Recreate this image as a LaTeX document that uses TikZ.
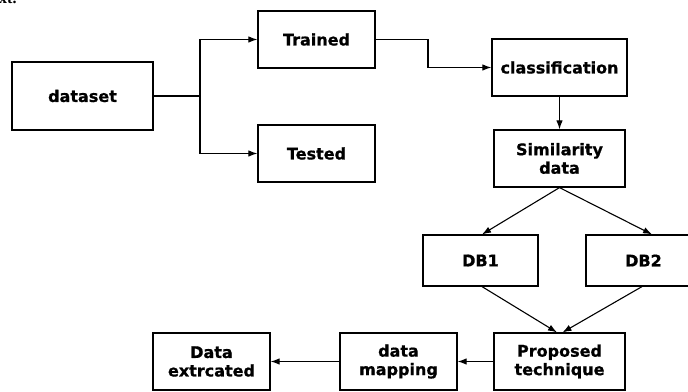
\documentclass[tikz,border=0pt]{standalone}
\usepackage{fontspec}
\setmainfont{DejaVu Sans}
\newfontfamily\heavyfont{DejaVu Sans Bold}[FakeBold=0.8]
\newfontfamily\fragfont{Liberation Serif Bold}
\usetikzlibrary{arrows.meta,calc}
\tikzset{
  box/.style={draw=black, line width=1.2pt, fill=white, inner sep=0pt, align=center,
    font=\heavyfont\fontsize{16}{18.5}\selectfont},
  conn/.style={line width=1.1pt, draw=black},
  arr/.style={conn, -{Latex[length=9pt,width=6.5pt]}}
}
\begin{document}
\begin{tikzpicture}[x=1pt,y=1pt]
\useasboundingbox (0,0) rectangle (688,391);
\clip (0,0) rectangle (688,391);
\node[anchor=base west, inner sep=0pt, font=\fragfont\fontsize{16}{18}\selectfont] (frag) at (-1,387.5) {xt.};
\node[box, minimum width=141, minimum height=68] (dataset) at (82.5,295) {dataset};
\node[box, minimum width=117, minimum height=57] (trained) at (316.5,351.5) {Trained};
\node[box, minimum width=117, minimum height=57] (tested) at (316.5,237.5) {Tested};
\node[box, minimum width=135, minimum height=57] (class) at (559.5,323.5) {classification};
\node[box, minimum width=131, minimum height=57] (sim) at (559.5,232.5) {Similarity\\data};
\node[box, minimum width=115, minimum height=51] (db1) at (480.5,130.5) {DB1};
\node[box, minimum width=115, minimum height=51] (db2) at (643.5,130.5) {DB2};
\node[box, minimum width=131, minimum height=57] (prop) at (559.5,29.5) {Proposed\\technique};
\node[box, minimum width=117, minimum height=57] (map) at (398.5,29.5) {data\\mapping};
\node[box, minimum width=117, minimum height=57] (ext) at (211.5,29.5) {Data\\extrcated};
\coordinate (split) at (200,295);
\coordinate (bend) at (428,351.5);
\draw[conn] (dataset.east) -- (split);
\draw[arr] (split) |- (trained.west);
\draw[arr] (split) |- (tested.west);
\draw[arr] (trained.east) -- (bend) |- (class.west);
\draw[arr] (class.south) -- (sim.north);
\draw[arr] (sim.south) -- ([xshift=1.5]db1.north);
\draw[arr] (sim.south) -- ([xshift=8.5]db2.north);
\draw[arr] ([xshift=1.5]db1.south) -- ([xshift=-2.5]prop.north);
\draw[arr] ([xshift=-1.5]db2.south) -- ([xshift=3]prop.north);
\draw[arr] (prop.west) -- (map.east);
\draw[arr] (map.west) -- (ext.east);
\end{tikzpicture}
\end{document}
